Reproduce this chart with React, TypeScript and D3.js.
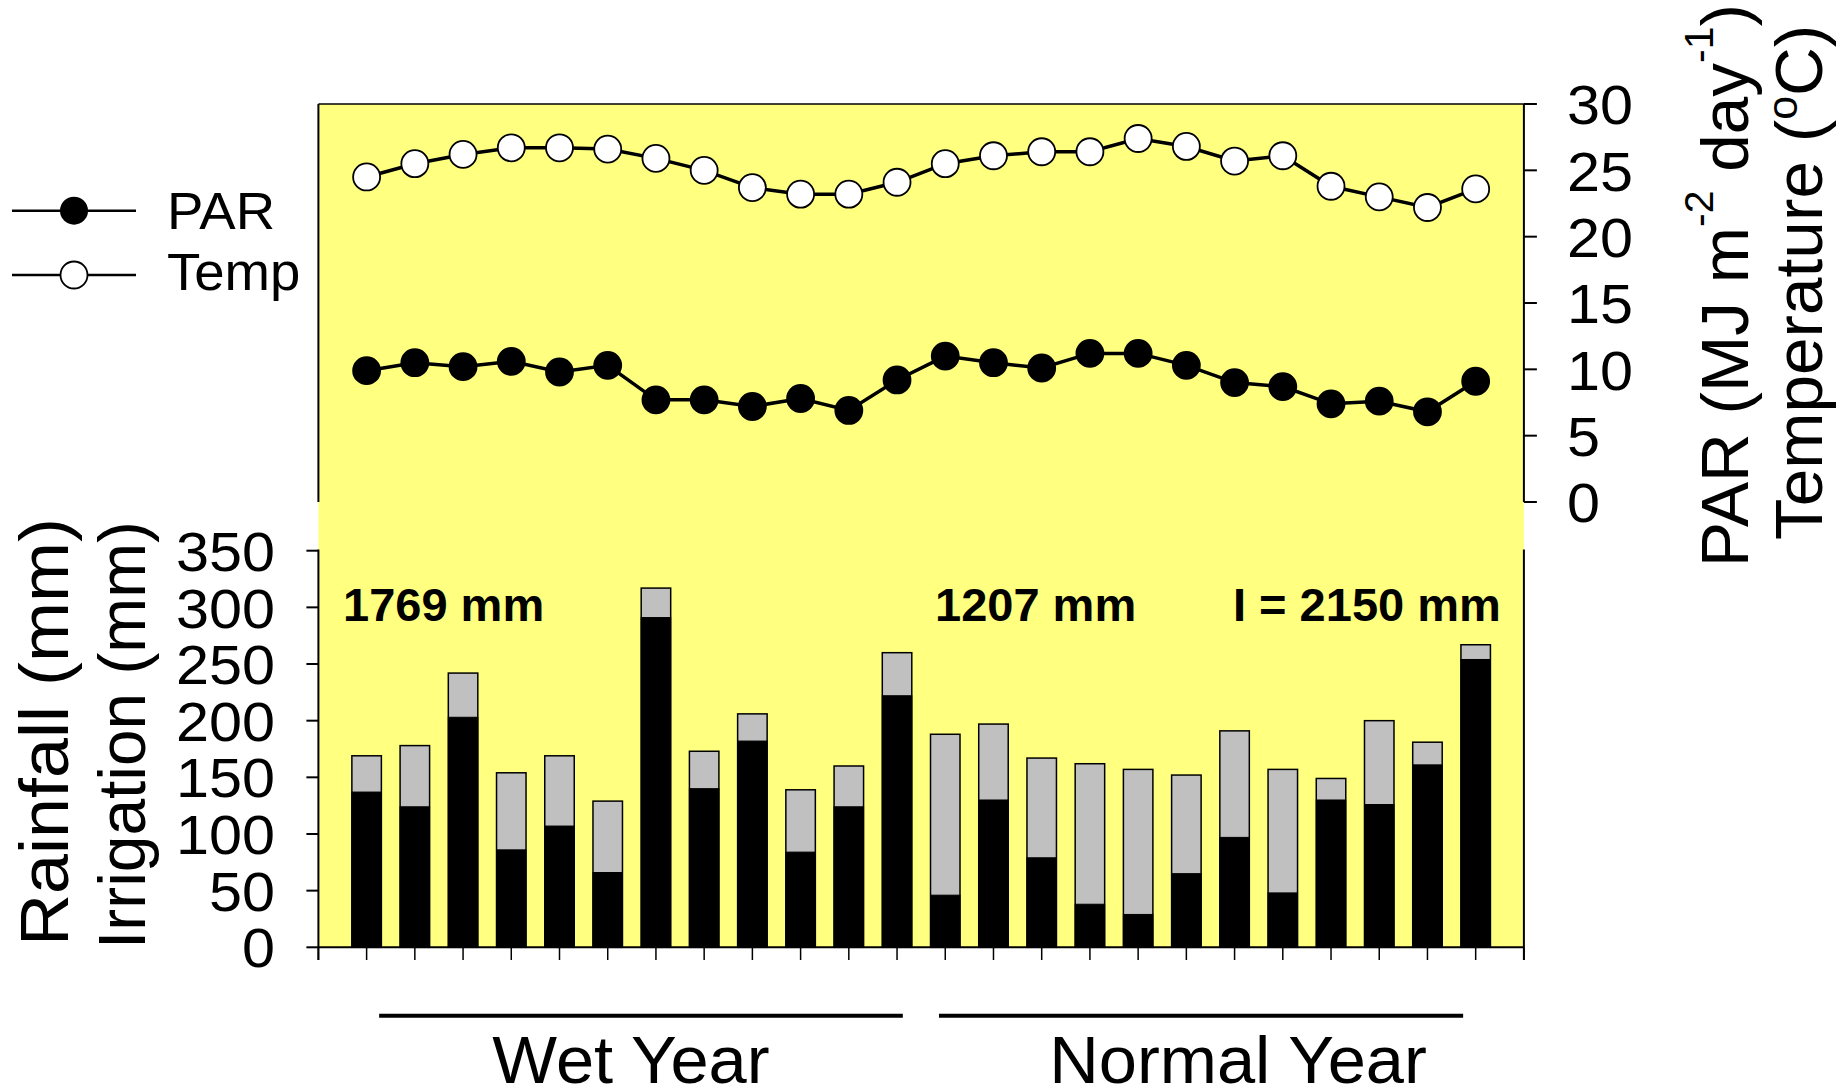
import React from "react";
import * as d3 from "d3";

const months = d3.range(1, 25);
const rainfall = [137, 124, 203, 86, 107, 66, 291, 140, 182, 84, 124, 222, 46, 130, 79, 38, 29, 65, 97, 48, 130, 126, 161, 254];
const irrigation = [32, 54, 39, 68, 62, 63, 26, 33, 24, 55, 36, 38, 142, 67, 88, 124, 128, 87, 94, 109, 19, 74, 20, 13];
const temperature = [24.5, 25.5, 26.2, 26.7, 26.7, 26.6, 25.9, 25.0, 23.7, 23.2, 23.2, 24.1, 25.5, 26.1, 26.4, 26.4, 27.4, 26.8, 25.7, 26.1, 23.8, 23.0, 22.2, 23.6];
const par = [9.9, 10.5, 10.2, 10.6, 9.8, 10.3, 7.7, 7.7, 7.2, 7.8, 6.9, 9.2, 11.0, 10.5, 10.1, 11.2, 11.2, 10.3, 9.0, 8.7, 7.4, 7.6, 6.8, 9.1];
const topTicks = [0, 5, 10, 15, 20, 25, 30];
const barTicks = [0, 50, 100, 150, 200, 250, 300, 350];
const annotations = ["1769 mm", "1207 mm", "I = 2150 mm"];
const groups = ["Wet Year", "Normal Year"];

const FONT = "'Liberation Sans', Arial, Helvetica, sans-serif";
const YELLOW = "#FFFF80";
const GRAY = "#C0C0C0";

function T(props: {
  x: number;
  y: number;
  sx?: number;
  size: number;
  anchor?: string;
  weight?: string;
  dy?: string;
  children: React.ReactNode;
}) {
  const { x, y, sx = 1, size, anchor = "start", weight = "normal", dy, children } = props;
  return (
    <text
      transform={`translate(${x},${y}) scale(${sx},1)`}
      fontSize={size}
      textAnchor={anchor}
      fontWeight={weight}
      dy={dy}
      fill="#000"
    >
      {children}
    </text>
  );
}

export default function App() {
  const left = 318.4;
  const right = 1523.9;
  const x = d3.scaleLinear().domain([0, 25]).range([left, right]);
  const yTop = d3.scaleLinear().domain([0, 30]).range([502, 104]);
  const yBar = d3.scaleLinear().domain([0, 350]).range([947.3, 550.7]);
  const barW = 29.5;

  const lineGen = (vals: number[]) =>
    d3
      .line<number>()
      .x((_, i) => x(months[i]))
      .y((v) => yTop(v))(vals) as string;

  const annX = [343, 935, 1233];
  const groupLines = [
    [1.26, 12.12],
    [12.87, 23.74],
  ];
  const groupTextX = [631, 1238];

  return (
    <svg
      width={1841}
      height={1089}
      style={{ position: "absolute", left: 0, top: 0, display: "block", background: "#fff" }}
      fontFamily={FONT}
    >
      {/* plot background */}
      <rect x={left} y={104} width={right - left} height={947.3 - 104} fill={YELLOW} />

      {/* bars */}
      {months.map((m, i) => {
        const total = rainfall[i] + irrigation[i];
        return (
          <g key={"b" + i}>
            <rect
              x={x(m) - barW / 2}
              y={yBar(total)}
              width={barW}
              height={yBar(0) - yBar(total)}
              fill={GRAY}
              stroke="#000"
              strokeWidth={1.5}
            />
            <rect
              x={x(m) - barW / 2}
              y={yBar(rainfall[i])}
              width={barW}
              height={yBar(0) - yBar(rainfall[i])}
              fill="#000"
              stroke="#000"
              strokeWidth={1}
            />
          </g>
        );
      })}

      {/* top panel frame */}
      <line x1={left} x2={right} y1={104} y2={104} stroke="#000" strokeWidth={1.5} />
      <line x1={left} x2={left} y1={104} y2={502} stroke="#000" strokeWidth={2} />
      <line x1={right} x2={right} y1={104} y2={502} stroke="#000" strokeWidth={2} />
      {topTicks.map((t) => (
        <g key={"tt" + t}>
          <line x1={right} x2={right + 13} y1={yTop(t)} y2={yTop(t)} stroke="#000" strokeWidth={2} />
          <T x={1567} y={yTop(t)} dy="0.36em" size={56} sx={1.06}>
            {t}
          </T>
        </g>
      ))}

      {/* lines + markers */}
      <path d={lineGen(temperature)} fill="none" stroke="#000" strokeWidth={3.5} />
      <path d={lineGen(par)} fill="none" stroke="#000" strokeWidth={3.5} />
      {temperature.map((v, i) => (
        <circle key={"t" + i} cx={x(months[i])} cy={yTop(v)} r={13.5} fill="#fff" stroke="#000" strokeWidth={1.8} />
      ))}
      {par.map((v, i) => (
        <circle key={"p" + i} cx={x(months[i])} cy={yTop(v)} r={13.5} fill="#000" stroke="#000" strokeWidth={1.8} />
      ))}

      {/* bar panel axes */}
      <line x1={left} x2={left} y1={549.5} y2={960} stroke="#000" strokeWidth={2} />
      <line x1={right} x2={right} y1={549.5} y2={960} stroke="#000" strokeWidth={2} />
      <line x1={left} x2={right} y1={yBar(0)} y2={yBar(0)} stroke="#000" strokeWidth={2} />
      {barTicks.map((t) => (
        <g key={"bt" + t}>
          <line x1={left - 12} x2={left} y1={yBar(t)} y2={yBar(t)} stroke="#000" strokeWidth={2} />
          <T x={275} y={yBar(t)} dy="0.36em" size={56} sx={1.06} anchor="end">
            {t}
          </T>
        </g>
      ))}
      {d3.range(0, 26).map((k) => (
        <line key={"xt" + k} x1={x(k)} x2={x(k)} y1={yBar(0)} y2={960} stroke="#000" strokeWidth={1.5} />
      ))}

      {/* annotations */}
      {annotations.map((a, i) => (
        <T key={"a" + i} x={annX[i]} y={621} size={47} weight="bold">
          {a}
        </T>
      ))}

      {/* groups */}
      {groups.map((g, i) => (
        <g key={"g" + i}>
          <line
            x1={x(groupLines[i][0])}
            x2={x(groupLines[i][1])}
            y1={1015.7}
            y2={1015.7}
            stroke="#000"
            strokeWidth={4}
          />
          <T x={groupTextX[i]} y={1083} size={66} sx={1.04} anchor="middle">
            {g}
          </T>
        </g>
      ))}

      {/* legend */}
      <line x1={12} x2={136} y1={210.7} y2={210.7} stroke="#000" strokeWidth={2.5} />
      <circle cx={74} cy={210.7} r={14} fill="#000" />
      <T x={167} y={229} size={51} sx={1.07}>PAR</T>
      <line x1={12} x2={136} y1={275} y2={275} stroke="#000" strokeWidth={2.5} />
      <circle cx={74} cy={275} r={13.5} fill="#fff" stroke="#000" strokeWidth={1.8} />
      <T x={167} y={290} size={51} sx={1.07}>Temp</T>

      {/* left axis titles */}
      <text
        transform="translate(68,946) rotate(-90)"
        fontSize={68}
        textLength={428}
        lengthAdjust="spacingAndGlyphs"
        fill="#000"
      >
        Rainfall (mm)
      </text>
      <text
        transform="translate(145,949) rotate(-90)"
        fontSize={66}
        textLength={428}
        lengthAdjust="spacingAndGlyphs"
        fill="#000"
      >
        Irrigation (mm)
      </text>

      {/* right axis titles */}
      <text transform="translate(1748,567) rotate(-90)" fontSize={67.5} fill="#000">
        <tspan>PAR (MJ m</tspan>
        <tspan fontSize={41} dy={-35}>-2</tspan>
        <tspan dy={35}> day</tspan>
        <tspan fontSize={41} dy={-35}>-1</tspan>
        <tspan dy={35}>)</tspan>
      </text>
      <text transform="translate(1822,540) rotate(-90)" fontSize={67.5} fill="#000">
        <tspan>Temperature (</tspan>
        <tspan fontSize={43} dy={-25}>o</tspan>
        <tspan dy={25}>C)</tspan>
      </text>
    </svg>
  );
}
